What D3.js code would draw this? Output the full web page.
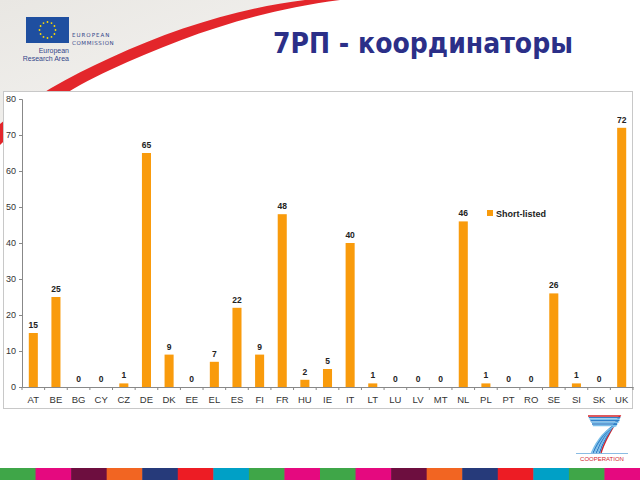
<!DOCTYPE html>
<html>
<head>
<meta charset="utf-8">
<script src="https://cdn.jsdelivr.net/npm/d3@7"></script>
<style>
  html, body { margin: 0; padding: 0; background: #fff; }
  svg { display: block; }
</style>
</head>
<body>
<div id="chart"></div>
<script>
// countries and short-listed coordinators
var countries = ["AT","BE","BG","CY","CZ","DE","DK","EE","EL","ES","FI","FR","HU",
                 "IE","IT","LT","LU","LV","MT","NL","PL","PT","RO","SE","SI","SK","UK"];
var shortListed = [15,25,0,0,1,65,9,0,7,22,9,48,2,
                   5,40,1,0,0,0,46,1,0,0,26,1,0,72];
var yTicks = [0,10,20,30,40,50,60,70,80];
var seriesName = "Short-listed";
var stripColors = ["#3fa648","#e5097f","#6d0e3f","#f26522","#263a7a","#ed1c24",
                   "#00a0c6","#3fa648","#e5097f","#3fa648","#e5097f","#6d0e3f",
                   "#f26522","#263a7a","#ed1c24","#00a0c6","#3fa648","#e5097f"];

var width = 640, height = 480;
var svg = d3.select("#chart").append("svg")
    .attr("width", width).attr("height", height);

// --- background: grey corner + red swoosh
var grad = svg.append("defs").append("linearGradient")
    .attr("id", "bg").attr("x1", 0).attr("y1", 0).attr("x2", 1).attr("y2", 1);
grad.append("stop").attr("offset", "0%").attr("stop-color", "#e9e7e3");
grad.append("stop").attr("offset", "100%").attr("stop-color", "#f6f5f3");

svg.append("path")
    .attr("d", "M0,0 L335,0 C260,8 180,30 110,62 C70,80 30,102 0,128 Z")
    .attr("fill", "url(#bg)");
svg.append("path")
    .attr("d", "M0,145 C30,115 70,88 110,70 C180,38 250,12 340,0 L305,0 C240,8 175,28 110,58 C70,76 30,98 0,124 Z")
    .attr("fill", "#e3262b");

// --- EU logo
var logo = svg.append("g");
logo.append("rect").attr("x", 26).attr("y", 17).attr("width", 43).attr("height", 26)
    .attr("fill", "#1f4fa0");
d3.range(12).forEach(function (i) {
    var a = i / 12 * 2 * Math.PI;
    logo.append("circle")
        .attr("cx", 47.5 + 8 * Math.cos(a)).attr("cy", 30 + 8 * Math.sin(a))
        .attr("r", 0.9).attr("fill", "#ffdd00");
});
logo.append("text").attr("x", 72).attr("y", 37).text("EUROPEAN")
    .attr("font-family", "DejaVu Sans").attr("font-size", 5.5).attr("fill", "#34468a")
    .attr("letter-spacing", 1);
logo.append("text").attr("x", 72).attr("y", 45).text("COMMISSION")
    .attr("font-family", "DejaVu Sans").attr("font-size", 5.5).attr("fill", "#34468a")
    .attr("letter-spacing", 0.6);
logo.append("text").attr("x", 69).attr("y", 53).text("European")
    .attr("text-anchor", "end").attr("font-family", "Liberation Sans Narrow, Liberation Sans")
    .attr("font-size", 7).attr("fill", "#34468a");
logo.append("text").attr("x", 69).attr("y", 61).text("Research Area")
    .attr("text-anchor", "end").attr("font-family", "Liberation Sans Narrow, Liberation Sans")
    .attr("font-size", 7).attr("fill", "#34468a");

// --- title
svg.append("text")
    .attr("x", 273).attr("y", 53)
    .attr("textLength", 300).attr("lengthAdjust", "spacingAndGlyphs")
    .attr("font-family", "DejaVu Sans").attr("font-weight", "bold")
    .attr("font-size", 28).attr("fill", "#2b2f88")
    .text("7РП - координаторы");

// --- chart frame
svg.append("rect").attr("x", 3.5).attr("y", 91.5).attr("width", 629).attr("height", 317)
    .attr("fill", "#fff").attr("stroke", "#c8c8c8");

var margin = { left: 22, right: 633, top: 99, bottom: 387 };
var x = d3.scaleBand().domain(countries).range([margin.left, margin.right])
    .paddingInner(0.6).paddingOuter(0.3);
var y = d3.scaleLinear().domain([0, 80]).range([margin.bottom, margin.top]);

var g = svg.append("g");

// y axis
var yAxis = g.append("g").attr("transform", "translate(" + margin.left + ",0)")
    .call(d3.axisLeft(y).tickValues(yTicks).tickSize(3).tickPadding(3));
yAxis.select(".domain").attr("stroke", "#888");
yAxis.selectAll(".tick line").attr("stroke", "#888");
yAxis.selectAll(".tick text").attr("font-family", "Liberation Sans")
    .attr("font-size", 9).attr("fill", "#333");

// x axis
var xAxis = g.append("g").attr("transform", "translate(0," + margin.bottom + ")")
    .call(d3.axisBottom(x).tickSize(0).tickPadding(9));
xAxis.select(".domain").attr("stroke", "#888");
xAxis.selectAll(".tick text").attr("font-family", "Liberation Sans")
    .attr("font-size", 9.5).attr("fill", "#333");
xAxis.selectAll(".sep").data(d3.range(countries.length + 1)).enter().append("line")
    .attr("x1", function (i) { return margin.left + i * (margin.right - margin.left) / countries.length; })
    .attr("x2", function (i) { return margin.left + i * (margin.right - margin.left) / countries.length; })
    .attr("y1", 0).attr("y2", 3).attr("stroke", "#888");

// bars
var data = countries.map(function (c, i) { return { c: c, v: shortListed[i] }; });
g.selectAll("rect.bar").data(data).enter().append("rect")
    .attr("class", "bar")
    .attr("x", function (d) { return x(d.c); })
    .attr("width", x.bandwidth())
    .attr("y", function (d) { return y(d.v); })
    .attr("height", function (d) { return y(0) - y(d.v); })
    .attr("fill", "#f99b0c");

// value labels
g.selectAll("text.val").data(data).enter().append("text")
    .attr("class", "val")
    .attr("x", function (d) { return x(d.c) + x.bandwidth() / 2; })
    .attr("y", function (d) { return y(d.v) - 5; })
    .attr("text-anchor", "middle")
    .attr("font-family", "Liberation Sans").attr("font-weight", "bold")
    .attr("font-size", 8.5).attr("fill", "#222")
    .text(function (d) { return d.v; });

// legend
var leg = g.append("g").attr("transform", "translate(487,210)");
leg.append("rect").attr("width", 6).attr("height", 6).attr("fill", "#f99b0c");
leg.append("text").attr("x", 9).attr("y", 6.5).text(seriesName)
    .attr("font-family", "Liberation Sans").attr("font-weight", "bold")
    .attr("font-size", 9).attr("fill", "#222");

// --- cooperation logo (bottom right)
var coop = svg.append("g");
d3.range(7).forEach(function (i) {
    coop.append("path")
        .attr("d", "M" + (588 + i * 0.8) + "," + (416 + i * 1.6) + " L" + (620 - i * 0.6) + "," + (416 + i * 1.6)
              + " C" + (611 - i * 1.2) + ",430 " + (604 - i * 1.3) + ",442 " + (601 - i * 1.6) + ",453")
        .attr("fill", "none").attr("stroke", i === 0 ? "#d2232a" : (i % 2 ? "#2f7fc8" : "#7cc0ea"))
        .attr("stroke-width", 1.4);
});
coop.append("line").attr("x1", 576).attr("x2", 628).attr("y1", 453.5).attr("y2", 453.5)
    .attr("stroke", "#3a8fd0").attr("stroke-width", 0.6);
coop.append("text").attr("x", 602).attr("y", 461).attr("text-anchor", "middle")
    .attr("font-family", "Liberation Sans Narrow, Liberation Sans").attr("font-size", 6)
    .attr("fill", "#d2232a").text("COOPERATION");

// --- colour strip at bottom
var sx = d3.scaleBand().domain(d3.range(stripColors.length)).range([0, width]);
svg.selectAll("rect.strip").data(stripColors).enter().append("rect")
    .attr("class", "strip")
    .attr("x", function (d, i) { return sx(i); })
    .attr("y", 468).attr("width", sx.bandwidth() + 0.5).attr("height", 12)
    .attr("fill", function (d) { return d; });
</script>
</body>
</html>
